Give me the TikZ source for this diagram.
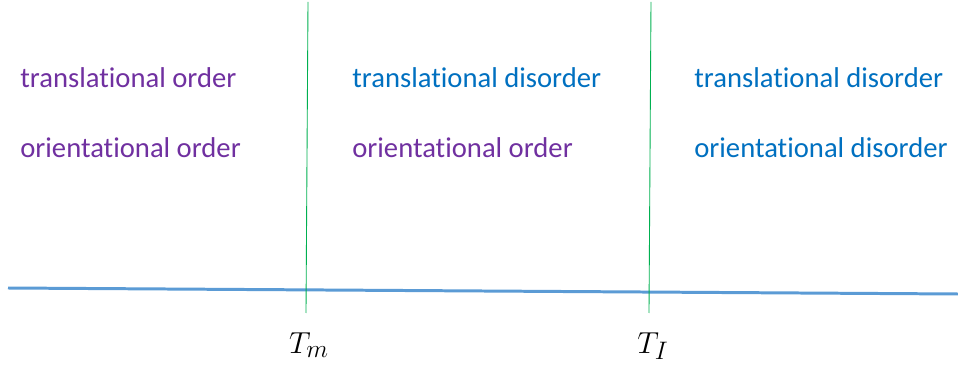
\documentclass[tikz,border=0pt]{standalone}
\usepackage{fontspec}
\setmainfont{Carlito}[RawFeature={-liga;-dlig}]
\usepackage{tikz}
\usetikzlibrary{positioning}
\definecolor{ordcol}{HTML}{7030A0}
\definecolor{discol}{HTML}{0070C0}
\definecolor{axiscol}{HTML}{5B9BD5}
\definecolor{trancol}{HTML}{00B050}
\tikzset{
  phase/.style={anchor=base west, inner sep=0pt, font=\fontsize{16.3}{19}\selectfont},
  ordered/.style={phase, text=ordcol},
  disordered/.style={phase, text=discol},
  templabel/.style={anchor=north, inner sep=0pt, font=\fontsize{19}{22}\selectfont},
  axis/.style={draw=axiscol, line width=1.7pt},
  transition/.style={draw=trancol, line width=0.5pt}
}
\begin{document}
\begin{tikzpicture}[x=0.02cm, y=-0.02cm]
  \useasboundingbox (0,0) rectangle (958,368);
  % temperature axis
  \coordinate (axisL) at (8,288);
  \coordinate (axisR) at (958,294);
  \draw[axis] (axisL) -- (axisR);
  % transition lines
  \coordinate (mTop) at (308,2);
  \coordinate (mBot) at (306,313);
  \coordinate (iTop) at (651,2);
  \coordinate (iBot) at (649,313);
  \draw[transition] (mTop) -- (mBot);
  \draw[transition] (iTop) -- (iBot);
  \node[templabel] (tm) at (309,332) {$T_m$};
  \node[templabel] (ti) at (653,332) {$T_I$};
  % phases
  \node[ordered] (solidT) at (20,88) {translational order};
  \node[ordered] (solidO) at (20,158) {orientational order};
  \node[disordered] (midT) at (352,88) {translational disorder};
  \node[ordered] (midO) at (352,158) {orientational order};
  \node[disordered] (liqT) at (694,88) {translational disorder};
  \node[disordered] (liqO) at (694,158) {orientational disorder};
\end{tikzpicture}
\end{document}
